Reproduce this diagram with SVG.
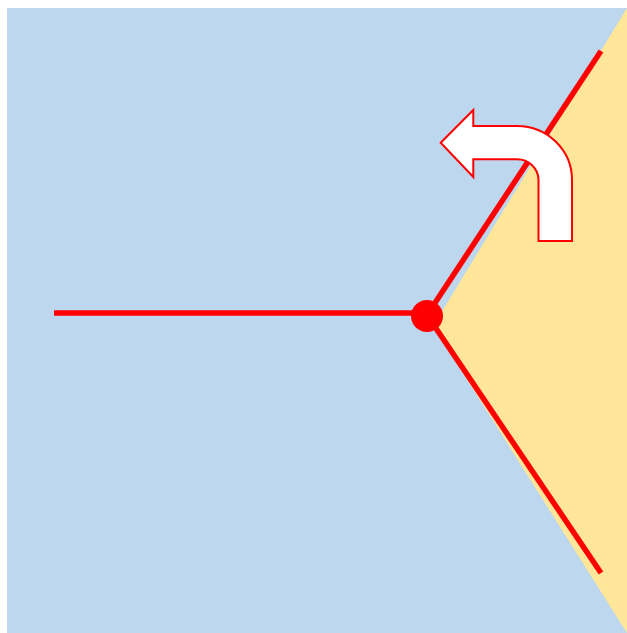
<svg xmlns="http://www.w3.org/2000/svg" width="627" height="633" viewBox="0 0 627 633">
  <style>
    .ray { stroke: #FF0000; stroke-width: 5.5; fill: none; }
  </style>
  <rect id="background" x="7" y="8" width="620" height="625" fill="#BDD7EE"/>
  <polygon id="region" points="627,8 441,313 427,316 627,633" fill="#FFE699"/>
  <g id="connectors">
    <line class="ray" x1="54" y1="313" x2="427" y2="313"/>
    <line class="ray" x1="427" y1="315" x2="601" y2="51"/>
    <line class="ray" x1="427" y1="315" x2="601" y2="573"/>
  </g>
  <g id="vertex">
    <circle cx="427" cy="316" r="16" fill="#FF0000"/>
  </g>
  <g id="arrow">
    <path d="M 440.7,142.7 L 473.3,110 L 473.3,126 L 517,126 A 55 54 0 0 1 572,180 L 572,241 L 538.5,241 L 538.5,180 A 21.5 21 0 0 0 517,159.3 L 473.3,159.3 L 473.3,177 Z" fill="#FFFFFF" stroke="#FF0000" stroke-width="2"/>
  </g>
</svg>
